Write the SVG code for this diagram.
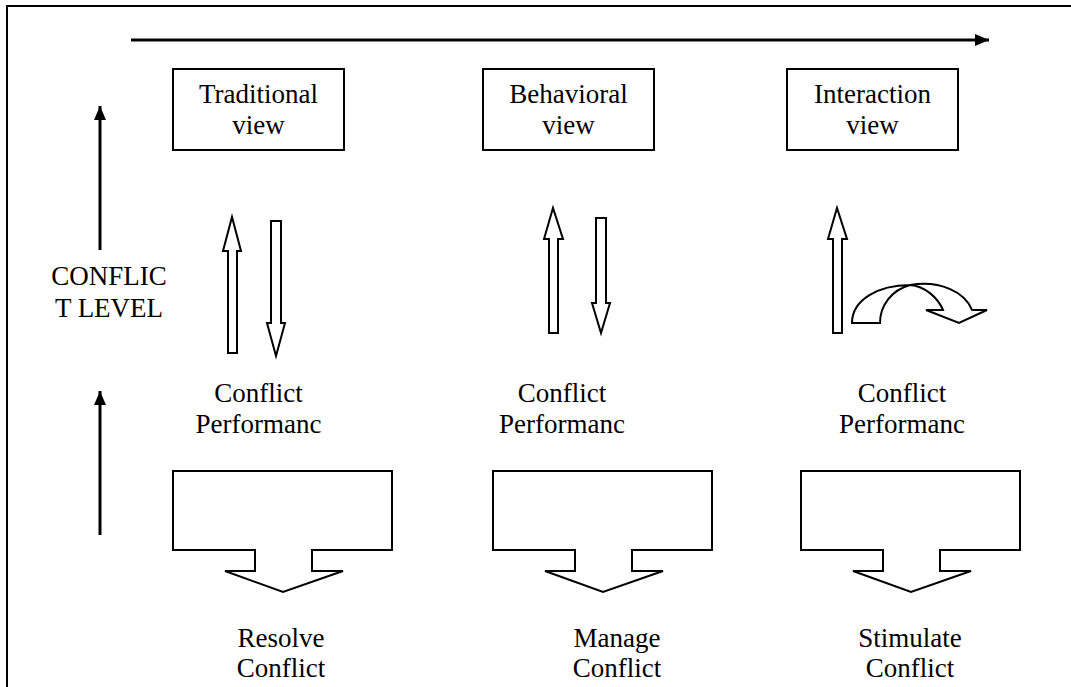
<svg xmlns="http://www.w3.org/2000/svg" width="1071" height="687" viewBox="0 0 1071 687">
<defs>
<marker id="ah" markerWidth="14" markerHeight="12" refX="14" refY="6" orient="auto" markerUnits="userSpaceOnUse">
<path d="M0,0 L14,6 L0,12 Z" fill="#000"/>
</marker>
<style>
.t{font-family:"Liberation Serif","Times New Roman",serif;font-size:27px;fill:#000;text-anchor:middle}
.b{fill:#fff;stroke:#000;stroke-width:2}
.l{stroke:#000;stroke-width:3;fill:none}
</style>
</defs>
<rect width="1071" height="687" fill="#fff"/>
<path d="M7,687 L7,6 L1071,6" fill="none" stroke="#000" stroke-width="2"/>
<g id="connectors">
<line class="l" x1="131" y1="40" x2="989" y2="40" marker-end="url(#ah)"/>
<line class="l" x1="100" y1="250" x2="100" y2="106" marker-end="url(#ah)"/>
<line class="l" x1="100" y1="535" x2="100" y2="391" marker-end="url(#ah)"/>
<path class="b" d="M228,353 L228,251 L223,251 L232,217 L241,251 L237,251 L237,353 Z"/>
<path class="b" d="M271,221 L281,221 L281,323 L285,323 L276,356 L267,323 L271,323 Z"/>
<path class="b" d="M549,333 L549,239 L544,239 L553,208 L563,239 L558,239 L558,333 Z"/>
<path class="b" d="M596,218 L606,218 L606,303 L610,303 L601,333 L592,303 L596,303 Z"/>
<path class="b" d="M833,333 L833,239 L828,239 L837,208 L847,239 L842,239 L842,333 Z"/>
<path class="b" d="M852,323 C852,300 878,285 910,285 C925,286 938,298 943,310 L926,310 L959,323 L987,310 L972,310 C965,292 940,280 910,285 C892,290 880,305 880,323 Z"/>
</g>
<g id="axis-label"><text class="t" x="109" y="285">CONFLIC</text><text class="t" x="109" y="317">T LEVEL</text></g>
<g id="traditional"><rect class="b" x="173" y="69" width="171" height="81"/><text class="t" x="258.5" y="103">Traditional</text><text class="t" x="258.5" y="134">view</text></g>
<g id="behavioral"><rect class="b" x="483" y="69" width="171" height="81"/><text class="t" x="568.5" y="103">Behavioral</text><text class="t" x="568.5" y="134">view</text></g>
<g id="interaction"><rect class="b" x="787" y="69" width="171" height="81"/><text class="t" x="872.5" y="103">Interaction</text><text class="t" x="872.5" y="134">view</text></g>
<g id="cp1"><text class="t" x="258.5" y="402">Conflict</text><text class="t" x="258.5" y="433">Performanc</text></g>
<g id="cp2"><text class="t" x="562" y="402">Conflict</text><text class="t" x="562" y="433">Performanc</text></g>
<g id="cp3"><text class="t" x="902" y="402">Conflict</text><text class="t" x="902" y="433">Performanc</text></g>
<g id="resolve"><path class="b" d="M173,471 L392,471 L392,550 L312,550 L312,571 L343,571 L283,592 L225,571 L255,571 L255,550 L173,550 Z"/><text class="t" x="281" y="647">Resolve</text><text class="t" x="281" y="677">Conflict</text></g>
<g id="manage"><path class="b" d="M493,471 L712,471 L712,550 L632,550 L632,571 L663,571 L603,592 L545,571 L575,571 L575,550 L493,550 Z"/><text class="t" x="617" y="647">Manage</text><text class="t" x="617" y="677">Conflict</text></g>
<g id="stimulate"><path class="b" d="M801,471 L1020,471 L1020,550 L940,550 L940,571 L971,571 L911,592 L853,571 L883,571 L883,550 L801,550 Z"/><text class="t" x="910" y="647">Stimulate</text><text class="t" x="910" y="677">Conflict</text></g>
</svg>
